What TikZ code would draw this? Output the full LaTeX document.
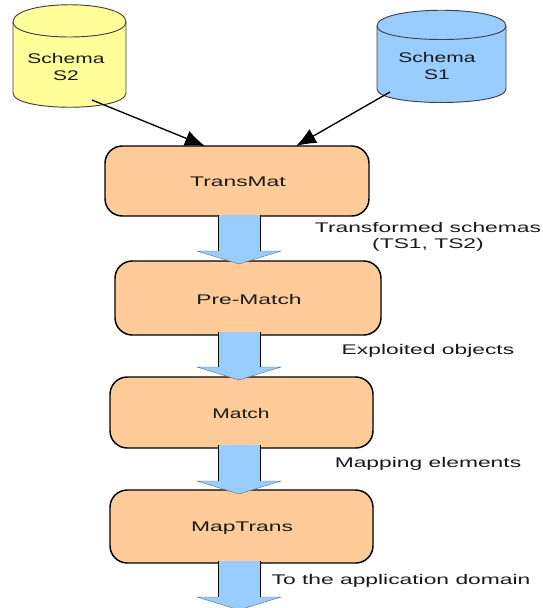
\documentclass[tikz,border=0pt]{standalone}
\usepackage{fontspec}
\setmainfont[FakeStretch=1.63]{Liberation Sans}
\newfontfamily\schemafont[FakeStretch=1.5]{Liberation Sans}
\usetikzlibrary{arrows.meta}
\definecolor{boxfill}{HTML}{FFCC99}
\definecolor{skyfill}{HTML}{99CCFF}
\definecolor{yelfill}{HTML}{FFFF99}
\tikzset{
  procbox/.style={draw=black,line width=1.1pt,fill=boxfill,rounded corners=13pt},
  lbl/.style={font=\fontsize{10.5}{12.2}\selectfont,align=center,inner sep=0pt,text=black!90},
  narrowlbl/.style={lbl,font=\fontsize{10.5}{12.6}\selectfont\schemafont},
  cyl/.style={draw=black!75,line width=0.7pt},
  link/.style={draw=black,line width=1pt,-{Latex[length=15pt,width=12pt]}},
}
\newcommand{\cylinder}[7]{% fill, xl, xr, top, rim, side-bottom, bottom
  \filldraw[cyl,fill=#1] (#2,#5) .. controls (#2,{#4-6}) and (#3,{#4-6}) .. (#3,#5) -- (#3,#6)
     .. controls (#3,{#7+5}) and (#2,{#7+5}) .. (#2,#6) -- cycle;
  \draw[cyl] (#2,#5) .. controls (#2,{2*(#5)-(#4)+3}) and (#3,{2*(#5)-(#4)+3}) .. (#3,#5);
}
\newcommand{\blockarrow}[6]{% shaft l, shaft r, head l, head r, y top, y neck
  \pgfmathsetmacro{\tipx}{(#3+#4)/2}
  \fill[skyfill] (#1,#5) -- (#1,#6) -- (#3,#6) -- (\tipx,{#6+13}) -- (#4,#6) -- (#2,#6) -- (#2,#5) -- cycle;
  \draw[black,line width=0.7pt] (#1,#5) -- (#1,#6) (#2,#5) -- (#2,#6);
  \draw[black!60,line width=0.3pt] (#1,#6) -- (#3,#6) -- (\tipx,{#6+13}) -- (#4,#6) -- (#2,#6);
}
\begin{document}
\begin{tikzpicture}[x=0.75pt,y=-0.75pt]
\useasboundingbox (0,0) rectangle (543,608);
\cylinder{yelfill}{13}{126}{5}{22}{93}{107}
\cylinder{skyfill}{377}{506}{11}{26}{89}{102}
\node[narrowlbl] (s2) at (66,67) {Schema\\S2};
\node[narrowlbl] (s1) at (437,66) {Schema\\S1};
\coordinate (s2out) at (92,100);
\coordinate (s1out) at (390,92);
\filldraw[procbox] (105,146) rectangle (369,216);
\filldraw[procbox] (115,261) rectangle (381,335);
\filldraw[procbox] (110,377) rectangle (373,448);
\filldraw[procbox] (110,490) rectangle (373,563);
\node[lbl] (tm) at (238,182) {TransMat};
\node[lbl] (pm) at (249,299) {Pre-Match};
\node[narrowlbl] (m) at (241,413) {Match};
\node[lbl] (mt) at (242,528) {MapTrans};
\coordinate (tmA) at (205,146);
\coordinate (tmB) at (296,146);
\draw[link] (s2out) -- (tmA);
\draw[link] (s1out) -- (tmB);
\blockarrow{218}{260}{197}{281}{215}{251}
\blockarrow{218}{260}{197}{281}{332}{367}
\blockarrow{218}{260}{197}{281}{445}{481}
\blockarrow{218}{260}{197}{281}{561}{597}
\node[lbl] (t1) at (428,237) {Transformed schemas\\(TS1, TS2)};
\node[lbl] (t2) at (428,351) {Exploited objects};
\node[lbl] (t3) at (428,464) {Mapping elements};
\node[lbl] (t4) at (401,581) {To the application domain};
\end{tikzpicture}
\end{document}
